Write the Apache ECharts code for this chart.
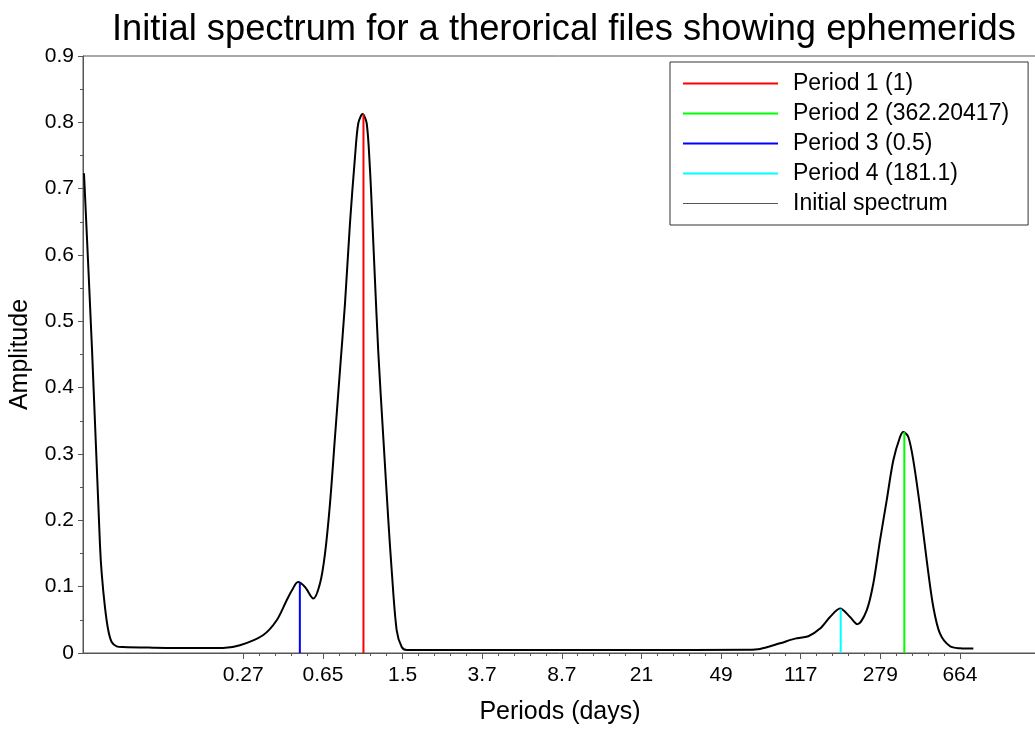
<!DOCTYPE html>
<html>
<head>
<meta charset="utf-8">
<script src="https://cdn.jsdelivr.net/npm/echarts@6/dist/echarts.min.js"></script>
<style>
  html, body { margin: 0; padding: 0; background: #fff; }
  #chart { width: 1035px; height: 729px; }
</style>
</head>
<body>
<div id="chart"></div>
<script>
// ---- data ----
const chartTitle = 'Initial spectrum for a therorical files showing ephemerids';
const xAxisName = 'Periods (days)';
const yAxisName = 'Amplitude';

// x tick labels (periods, days) — evenly spaced on a log axis
const xTickLabels = ['0.27', '0.65', '1.5', '3.7', '8.7', '21', '49', '117', '279', '664'];
// visible x range (periods, days)
const xRange = [0.0471, 1537];
const yTickLabels = ['0', '0.1', '0.2', '0.3', '0.4', '0.5', '0.6', '0.7', '0.8', '0.9'];

// Initial spectrum: periods (days) and amplitudes
const spectrumPeriods = [
  0.04761, 0.05194, 0.05668, 0.05774,
  0.05984, 0.06203, 0.06437, 0.06798, 0.07283, 0.1009, 0.1511, 0.2165, 0.2604, 0.3346,
  0.3886, 0.4333, 0.4590, 0.4900, 0.5289, 0.5790, 0.6226, 0.6577, 0.6944, 0.7332,
  0.7742, 0.8177, 0.8633, 0.9118, 0.9452, 0.990, 1.036, 1.074, 1.103, 1.128,
  1.176, 1.241, 1.311, 1.360, 1.436, 1.517, 1.601, 5, 20, 66,
  75.19, 93.50, 110.1, 127.3, 144.6, 161.2, 179.8, 200.5, 217.1, 240.4,
  258.3, 277.9, 298.9, 321.3, 345.6, 358.3, 378.3, 399.5, 429.9, 462.3,
  496.7, 534.3, 596.0, 664.6, 768.1
];
const spectrumAmps = [
  0.7232, 0.4588, 0.1624, 0.1202,
  0.0689, 0.0342, 0.0166, 0.0101, 0.0090, 0.0081, 0.0075, 0.0075, 0.0116, 0.0267,
  0.0493, 0.0795, 0.0945, 0.1070, 0.0995, 0.0820, 0.1046, 0.1499, 0.2252, 0.3256,
  0.4262, 0.5268, 0.6478, 0.7478, 0.7986, 0.8125, 0.7986, 0.7277, 0.6478, 0.5770,
  0.4518, 0.3252, 0.2001, 0.1247, 0.0342, 0.0090, 0.0045, 0.0045, 0.0045, 0.0048,
  0.0060, 0.0146, 0.0217, 0.0252, 0.0368, 0.0543, 0.0669, 0.0543, 0.0433, 0.0644,
  0.1046, 0.1699, 0.2302, 0.2905, 0.3256, 0.3332, 0.3256, 0.2905, 0.2201, 0.1398,
  0.0694, 0.0292, 0.0101, 0.0071, 0.0066
];

// Period markers
const periodNames = ['Period 1 (1)', 'Period 2 (362.20417)', 'Period 3 (0.5)', 'Period 4 (181.1)'];
const periodValues = [1, 362.20417, 0.5, 181.1];
const periodHeights = [0.812, 0.333, 0.106, 0.0665];
const periodColors = ['#ff0000', '#00ff00', '#0000ff', '#00ffff'];
const spectrumName = 'Initial spectrum';

// ---- build chart ----
const FONT = '"Liberation Sans", Arial, Helvetica, sans-serif';
const lg = v => Math.log10(v);

const firstL = lg(parseFloat(xTickLabels[0]));
const lastL = lg(parseFloat(xTickLabels[xTickLabels.length - 1]));
const stepL = (lastL - firstL) / (xTickLabels.length - 1);
const majorPos = xTickLabels.map((_, i) => firstL + i * stepL);
const minorPos = [];
for (let i = 0; i < xTickLabels.length - 1; i++) {
  for (let j = 1; j < 5; j++) minorPos.push(firstL + (i + j / 5) * stepL);
}
function xLabel(v) {
  let best = 0, bd = Infinity;
  majorPos.forEach((p, i) => { const d = Math.abs(p - v); if (d < bd) { bd = d; best = i; } });
  return xTickLabels[best];
}

const axisColor = '#555';
const series = [{
  name: spectrumName,
  type: 'line',
  data: spectrumPeriods.map((p, i) => [lg(p), spectrumAmps[i]]),
  symbol: 'none',
  showSymbol: false,
  smooth: 0.3,
  lineStyle: { color: '#000', width: 2 },
  itemStyle: { color: '#000' },
  z: 2
}];
periodNames.forEach((n, i) => {
  series.push({
    name: n,
    type: 'line',
    data: [[lg(periodValues[i]), 0], [lg(periodValues[i]), periodHeights[i]]],
    symbol: 'none',
    showSymbol: false,
    lineStyle: { color: periodColors[i], width: 2 },
    itemStyle: { color: periodColors[i] },
    z: 3
  });
});

const chart = echarts.init(document.getElementById('chart'), null, { renderer: 'canvas' });
chart.setOption({
  animation: false,
  backgroundColor: '#fff',
  textStyle: { fontFamily: FONT },
  title: {
    text: chartTitle,
    left: 107,
    top: 7,
    textStyle: { fontSize: 36.3, fontWeight: 'normal', color: '#000', fontFamily: FONT }
  },
  legend: {
    orient: 'vertical',
    left: 670,
    top: 62,
    itemWidth: 95,
    itemHeight: 20,
    itemGap: 7,
    padding: [10, 19, 10, 12],
    borderColor: '#333',
    borderWidth: 1,
    borderRadius: 0,
    backgroundColor: '#fff',
    itemStyle: { opacity: 0, borderWidth: 0 },
    data: [
      { name: periodNames[0] },
      { name: periodNames[1] },
      { name: periodNames[2] },
      { name: periodNames[3] },
      { name: spectrumName, lineStyle: { width: 1, color: '#555' } }
    ],
    textStyle: { fontSize: 23, color: '#000', fontFamily: FONT, padding: [0, 0, 0, 10] }
  },
  grid: {
    left: 83, right: -2, top: 56, bottom: 76,
    show: true, borderColor: axisColor, borderWidth: 1,
    containLabel: false, outerBoundsMode: 'none'
  },
  xAxis: [{
    type: 'value',
    min: lg(xRange[0]),
    max: lg(xRange[1]),
    splitLine: { show: false },
    axisLine: { show: true, onZero: false, lineStyle: { color: axisColor, width: 1 } },
    axisTick: { show: true, customValues: majorPos, length: 6, lineStyle: { color: axisColor } },
    axisLabel: { customValues: majorPos, formatter: v => xLabel(v), fontSize: 21, color: '#000', margin: 12, fontFamily: FONT },
    name: xAxisName,
    nameLocation: 'middle',
    nameGap: 47,
    nameTextStyle: { fontSize: 25, color: '#000', fontFamily: FONT }
  }, {
    type: 'value',
    position: 'bottom',
    min: lg(xRange[0]),
    max: lg(xRange[1]),
    splitLine: { show: false },
    axisLine: { show: false, onZero: false },
    axisTick: { show: true, customValues: minorPos, length: 3, lineStyle: { color: axisColor } },
    axisLabel: { show: false }
  }],
  yAxis: {
    type: 'value',
    min: 0,
    max: 0.9,
    interval: 0.1,
    splitLine: { show: false },
    axisLine: { show: true, onZero: false, lineStyle: { color: axisColor, width: 1 } },
    axisTick: { show: true, length: 5, lineStyle: { color: axisColor } },
    minorTick: { show: true, splitNumber: 2, length: 3, lineStyle: { color: axisColor } },
    axisLabel: {
      fontSize: 21, color: '#000', margin: 9, fontFamily: FONT,
      formatter: v => yTickLabels[Math.round(v * 10)]
    },
    name: yAxisName,
    nameLocation: 'middle',
    nameGap: 50,
    nameTextStyle: { fontSize: 25, color: '#000', fontFamily: FONT }
  },
  series: series
});
</script>
</body>
</html>
